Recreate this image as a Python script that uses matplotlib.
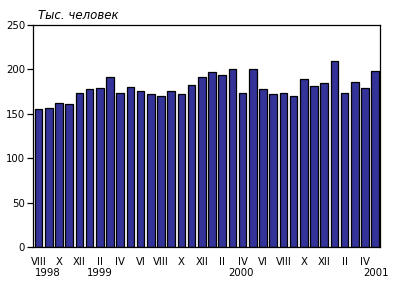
import numpy as np
import matplotlib.pyplot as plt

# численность, тыс. человек, VIII 1998 - V 2001
months = ["VIII", "IX", "X", "XI", "XII",
          "I", "II", "III", "IV", "V", "VI", "VII", "VIII", "IX", "X", "XI", "XII",
          "I", "II", "III", "IV", "V", "VI", "VII", "VIII", "IX", "X", "XI", "XII",
          "I", "II", "III", "IV", "V"]
values = [156, 157, 162, 161, 173, 178, 179, 191, 173, 180, 176, 172, 170, 176, 172, 183, 191,
          197, 194, 200, 174, 201, 178, 172, 173, 170, 189, 181, 185, 210,
          174, 186, 179, 198]
years = ["1998", "1999", "2000", "2001"]
year_pos = [0.9, 6.0, 19.8, 33.1]

fig = plt.figure(figsize=(3.95, 2.89), dpi=100)
ax = fig.add_axes([0.0848, 0.1443, 0.8780, 0.7692])

x = np.arange(len(values))
ax.bar(x, values, width=0.76, color="#333399", edgecolor="black", linewidth=0.9)

ax.set_xlim(-0.5, len(values) - 0.5)
ax.set_ylim(0, 250)
ax.set_yticks(range(0, 251, 50))
ax.tick_params(axis="y", direction="out", length=4, width=0.9, labelsize=7.3, pad=2)

ax.set_xticks(x[::2])
ax.set_xticklabels(months[::2], fontsize=7.3)
ax.tick_params(axis="x", length=0, pad=7)

for s in ax.spines.values():
    s.set_linewidth(0.9)

for yr, p in zip(years, year_pos):
    ax.text(p, -0.092, yr, transform=ax.get_xaxis_transform(), ha="center", va="top",
            fontsize=7.3, clip_on=False)

fig.text(0.096, 0.948, "Тыс. человек", fontsize=8.5, style="italic", ha="left", va="center")

fig.savefig("out.png", dpi=100)
